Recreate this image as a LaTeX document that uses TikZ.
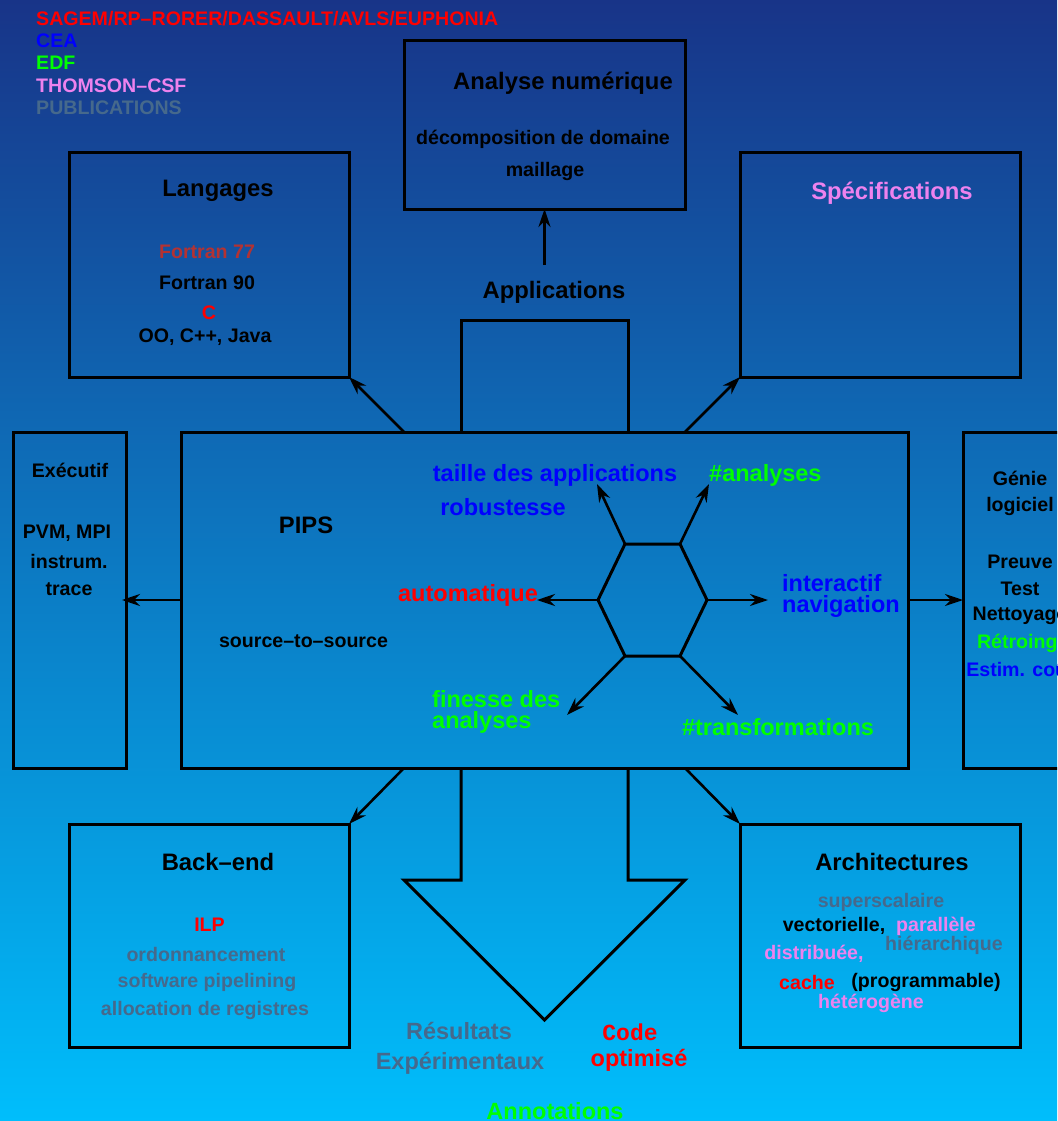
\documentclass[tikz,border=0pt]{standalone}
\usepackage{fontspec}
\setmainfont{Liberation Sans}
\newfontfamily\codefont{Liberation Mono}
\usetikzlibrary{arrows.meta}
\definecolor{bgtop}{RGB}{24,52,136}
\definecolor{bgbot}{RGB}{0,190,252}
\definecolor{slate}{RGB}{70,105,140}
\definecolor{brick}{RGB}{180,50,50}
\definecolor{violetp}{RGB}{238,130,238}
\definecolor{grn}{RGB}{0,255,0}
\definecolor{blu}{RGB}{0,0,255}
\definecolor{rd}{RGB}{255,0,0}
\begin{document}
\begin{tikzpicture}[x=1pt,y=-1pt,
  panel/.style={draw=black,line width=3pt,inner sep=0pt,outer sep=0pt},
  lbl/.style={font=\bfseries\fontsize{19.6}{22}\selectfont,inner sep=0pt,yshift=-2pt},
  ttl/.style={font=\bfseries\fontsize{23.8}{27}\selectfont,inner sep=0pt,yshift=-2pt},
  hexlbl/.style={font=\bfseries\fontsize{23.5}{26}\selectfont,inner sep=0pt,yshift=-2pt},
  conn/.style={draw=black,line width=2.6pt,-{Stealth[length=18pt,width=12pt,inset=6pt]}},
  frame/.style={draw=black,line width=3pt,line join=miter}]
\useasboundingbox (0,0) rectangle (1057,1121);
\clip (0,0) rectangle (1057,1121);
\shade[top color=bgtop,bottom color=bgbot] (0,0) rectangle (1057,1121);

% legend
\node[lbl,anchor=west,text=rd] (lg1) at (36,17) {SAGEM/RP--RORER/DASSAULT/AVLS/EUPHONIA};
\node[lbl,anchor=west,text=blu] (lg2) at (36,39) {CEA};
\node[lbl,anchor=west,text=grn] (lg3) at (36,61) {EDF};
\node[lbl,anchor=west,text=violetp] (lg4) at (36,84) {THOMSON--CSF};
\node[lbl,anchor=west,text=slate] (lg5) at (36,106) {PUBLICATIONS};

% panels
\node[panel,minimum width=281pt,minimum height=168pt] (ana) at (544.5,125) {};
\node[panel,minimum width=280pt,minimum height=225pt] (lang) at (209,264.5) {};
\node[panel,minimum width=280pt,minimum height=225pt] (spec) at (880,264.5) {};
\node[panel,minimum width=113pt,minimum height=336pt] (exec) at (69.5,600) {};
\node[panel,minimum width=727pt,minimum height=336pt] (pips) at (544.5,600) {};
\node[panel,minimum width=114pt,minimum height=336pt] (gen) at (1020,600) {};
\node[panel,minimum width=280pt,minimum height=223pt] (back) at (209,935.5) {};
\node[panel,minimum width=280pt,minimum height=223pt] (arch) at (880,935.5) {};

% Analyse numerique
\node[ttl] (anaT) at (563,81) {Analyse numérique};
\node[lbl] (ana1) at (543,137) {décomposition de domaine};
\node[lbl] (ana2) at (545,169) {maillage};

% Applications
\node[ttl] (appT) at (554,290) {Applications};
\coordinate (appTop) at (544.5,265);
\draw[conn] (appTop) -- (ana.south);
\draw[frame] (461,432) -- (461,320) -- (628,320) -- (628,432);

% Langages
\node[ttl] (langT) at (218,189) {Langages};
\node[lbl,text=brick] (l1) at (207,250) {Fortran 77};
\node[lbl] (l2) at (207,281) {Fortran 90};
\node[lbl,text=rd] (l3) at (209,311) {C};
\node[lbl] (l4) at (205,335) {OO, C++, Java};

% Specifications
\node[ttl,text=violetp] (specT) at (892,191) {Spécifications};

% Executif
\node[lbl] (e0) at (70,468) {Exécutif};
\node[lbl] (e1) at (67,531) {PVM, MPI};
\node[lbl] (e2) at (69,559) {instrum.};
\node[lbl] (e3) at (69,587) {trace};

% PIPS
\node[ttl] (pipsT) at (306,523) {PIPS};
\node[lbl] (pipsS) at (303.5,639) {source--to--source};

% Genie logiciel
\node[lbl] (g1) at (1020,476) {Génie};
\node[lbl] (g2) at (1020,504) {logiciel};
\node[lbl] (g3) at (1020,560) {Preuve};
\node[lbl] (g4) at (1020,587) {Test};
\node[lbl] (g5) at (1020,614) {Nettoyage};
\node[lbl,text=grn] (g6) at (1020,641) {Rétroing.};
\node[lbl,text=blu] (g7) at (1020,667) {Estim. coût};

% Back-end
\node[ttl] (backT) at (218,860) {Back--end};
\node[lbl,text=rd] (b1) at (209.5,923) {ILP};
\node[lbl,text=slate] (b2) at (206,952) {ordonnancement};
\node[lbl,text=slate] (b3) at (207,980) {software pipelining};
\node[lbl,text=slate] (b4) at (205,1008) {allocation de registres};

% Architectures
\node[ttl] (archT) at (892,860) {Architectures};
\node[lbl,text=slate] (a1) at (881,900) {superscalaire};
\node[lbl] (a2) at (834,924) {vectorielle,};
\node[lbl,text=violetp] (a3) at (936,924) {parallèle};
\node[lbl,text=slate] (a4) at (944,943) {hiérarchique};
\node[lbl,text=violetp] (a5) at (814,952) {distribuée,};
\node[lbl,text=rd] (a6) at (807,980) {cache};
\node[lbl] (a7) at (926,980) {(programmable)};
\node[lbl,text=violetp] (a8) at (871,1001) {hétérogène};

% links between PIPS and the surrounding panels
\coordinate (pNW) at (404,432);
\coordinate (pNE) at (685,432);
\coordinate (pSW) at (404,768);
\coordinate (pSE) at (685,768);
\coordinate (exTip) at (122,600);
\draw[conn] (pNW) -- (lang.south east);
\draw[conn] (pNE) -- (spec.south west);
\draw[conn] (pSW) -- (back.north east);
\draw[conn] (pSE) -- (arch.north west);
\draw[conn] (pips.west) -- (exTip);
\draw[conn] (pips.east) -- (gen.west);

% hexagon of trade-offs
\coordinate (h1) at (625,544);
\coordinate (h2) at (680,544);
\coordinate (h3) at (707,600);
\coordinate (h4) at (680,656);
\coordinate (h5) at (625,656);
\coordinate (h6) at (598,600);
\draw[frame] (h1) -- (h2) -- (h3) -- (h4) -- (h5) -- (h6) -- cycle;
\coordinate (t1) at (597,484);
\coordinate (t2) at (709,484);
\coordinate (t3) at (768,600);
\coordinate (t4) at (738,715);
\coordinate (t5) at (567,715);
\coordinate (t6) at (537,600);
\draw[conn] (h1) -- (t1);
\draw[conn] (h2) -- (t2);
\draw[conn] (h3) -- (t3);
\draw[conn] (h4) -- (t4);
\draw[conn] (h5) -- (t5);
\draw[conn] (h6) -- (t6);

\node[hexlbl,text=blu] (x1) at (555,473) {taille des applications};
\node[hexlbl,text=blu] (x2) at (503,505) {robustesse};
\node[hexlbl,text=grn,anchor=west] (x3) at (709,473) {\#analyses};
\node[hexlbl,text=rd] (x4) at (468,593) {automatique};
\node[hexlbl,text=blu,anchor=west] (x5) at (782,581) {interactif};
\node[hexlbl,text=blu,anchor=west] (x6) at (782,604) {navigation};
\node[hexlbl,text=grn,anchor=west] (x7) at (432,697) {finesse des};
\node[hexlbl,text=grn,anchor=west] (x8) at (432,720) {analyses};
\node[hexlbl,text=grn] (x9) at (778,725) {\#transformations};

% output arrow
\draw[frame] (461,768) -- (461,880) -- (404,880) -- (544.5,1020) -- (685,880) -- (628,880) -- (628,768);

\node[hexlbl,text=slate] (r1) at (459,1029) {Résultats};
\node[hexlbl,text=slate] (r2) at (460,1061) {Expérimentaux};
\node[text=rd,inner sep=0pt,yshift=-2pt,font=\codefont\bfseries\fontsize{23}{26}\selectfont] (c1) at (630,1030) {Code};
\node[hexlbl,text=rd] (c2) at (639,1058) {optimisé};
\node[hexlbl,text=grn] (n1) at (555,1109) {Annotations};
\end{tikzpicture}
\end{document}
